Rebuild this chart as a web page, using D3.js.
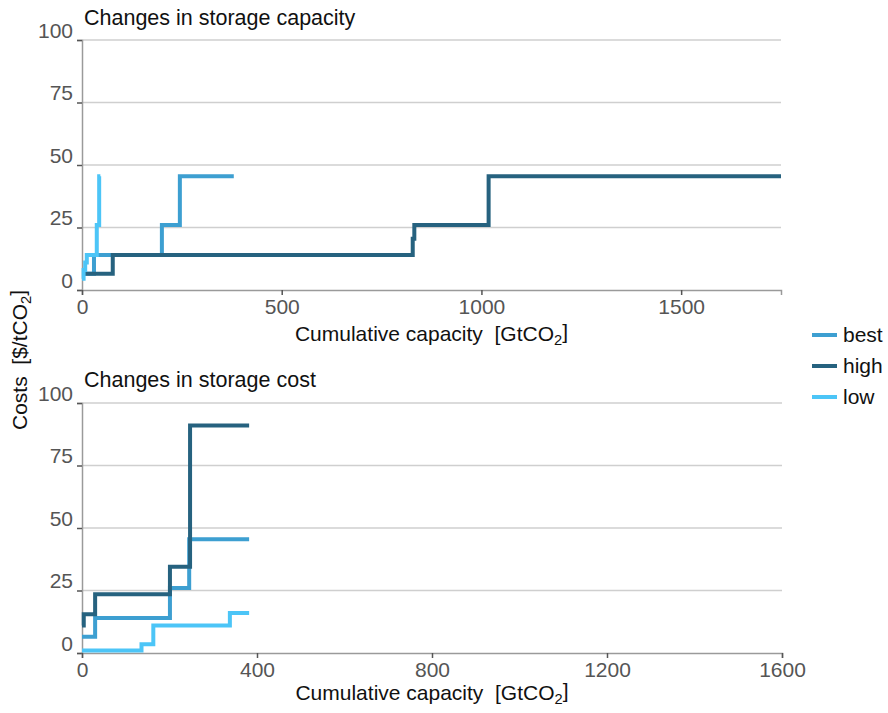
<!DOCTYPE html>
<html>
<head>
<meta charset="utf-8">
<script src="https://cdn.jsdelivr.net/npm/d3@7/dist/d3.min.js"></script>
<style>
  body { margin: 0; background: #fff; }
  svg { display: block; font-family: "Liberation Sans", Arial, sans-serif; }
  text { white-space: pre; }
</style>
</head>
<body>
<svg id="chart" width="888" height="713"></svg>
<script>
// Scenario names and colours
const scenarios = ["best", "high", "low"];
const scenarioColors = ["#3d9fd1", "#26627f", "#4cc5f7"];

// Axis ticks
const costTicks = [0, 25, 50, 75, 100];
const capTicksTop = [0, 500, 1000, 1500];
const capTicksBottom = [0, 400, 800, 1200, 1600];

// Panel 1: changes in storage capacity
// capacity break points (last entry = end of curve) and cost of each step
const capBestA = [0, 30, 200, 245, 380];
const costBestA = [6.5, 14, 26, 45.5];
const capHighA = [0, 77, 828, 832, 1018, 1750];
const costHighA = [6.5, 14, 20.5, 26, 45.5];
const capLowA = [0, 4, 8, 12, 37, 43, 46];
const costLowA = [4.5, 8, 11, 14, 26, 45.5];

// Panel 2: changes in storage cost
const capBestB = [0, 30, 201, 245, 382];
const costBestB = [6.5, 14, 26, 45.5];
const capHighB = [0, 4, 30, 201, 247, 382];
const costHighB = [11, 15.5, 23.5, 34.5, 91];
const capLowB = [0, 136, 163, 338, 382];
const costLowB = [1, 3.5, 11, 16];

const svg = d3.select("#chart");

function stepPoints(caps, costs) {
  const pts = costs.map((c, i) => [caps[i], c]);
  pts.push([caps[caps.length - 1], costs[costs.length - 1]]);
  return pts;
}

function addSub(textSel, before, sub, after) {
  textSel.append("tspan").text(before);
  textSel.append("tspan").attr("font-size", "0.7em").attr("dy", "0.3em").text(sub);
  textSel.append("tspan").attr("dy", "-0.3em").text(after);
}

function panel(opts) {
  const x = d3.scaleLinear().domain(opts.xDomain).range(opts.xRange);
  const y = d3.scaleLinear().domain([0, 100]).range(opts.yRange);
  const g = svg.append("g");

  // gridlines
  g.append("g").selectAll("line").data(costTicks.filter(t => t > 0)).join("line")
    .attr("x1", opts.xRange[0]).attr("x2", opts.xRange[1])
    .attr("y1", d => y(d)).attr("y2", d => y(d))
    .attr("stroke", "#cfcfcf").attr("stroke-width", 1.5);

  // y axis
  const ya = g.append("g").attr("transform", `translate(${opts.xRange[0]},0)`)
    .call(d3.axisLeft(y).tickValues(costTicks).tickSize(5).tickPadding(4).tickFormat(d3.format("d")));
  ya.select(".domain").attr("stroke", "#9a9a9a").attr("stroke-width", 1.5);
  ya.selectAll(".tick line").attr("stroke", "#555").attr("stroke-width", 1.5);
  ya.selectAll(".tick text").attr("fill", "#555").attr("font-size", 21)
    .attr("dy", "-0.12em");

  // x axis
  const xa = g.append("g").attr("transform", `translate(0,${opts.yRange[0]})`)
    .call(d3.axisBottom(x).tickValues(opts.xTicks).tickSize(5).tickPadding(4).tickFormat(d3.format("d")));
  xa.select(".domain").attr("stroke", "#9a9a9a").attr("stroke-width", 1.5);
  xa.selectAll(".tick line").attr("stroke", "#555").attr("stroke-width", 1.5);
  xa.selectAll(".tick text").attr("fill", "#555").attr("font-size", 21);

  // step curves
  const line = d3.line().x(d => x(d[0])).y(d => y(d[1])).curve(d3.curveStepAfter);
  opts.series.forEach((s, i) => {
    g.append("path")
      .attr("d", line(stepPoints(s[0], s[1])))
      .attr("fill", "none")
      .attr("stroke", scenarioColors[i])
      .attr("stroke-width", 4);
  });

  // panel title
  g.append("text").attr("x", opts.xRange[0] + 2).attr("y", opts.titleY)
    .attr("font-size", 21.5).attr("fill", "#111").text(opts.title);

  // x title
  const xt = g.append("text")
    .attr("x", (opts.xRange[0] + opts.xRange[1]) / 2)
    .attr("y", opts.xTitleY)
    .attr("text-anchor", "middle").attr("font-size", 21).attr("fill", "#111");
  addSub(xt, "Cumulative capacity  [GtCO", "2", "]");
}

panel({
  xDomain: [0, 1750], xRange: [82, 781], yRange: [290, 40],
  xTicks: capTicksTop, title: "Changes in storage capacity", titleY: 25, xTitleY: 341,
  series: [[capBestA, costBestA], [capHighA, costHighA], [capLowA, costLowA]]
});

panel({
  xDomain: [0, 1600], xRange: [82, 782], yRange: [653, 403],
  xTicks: capTicksBottom, title: "Changes in storage cost", titleY: 387, xTitleY: 700,
  series: [[capBestB, costBestB], [capHighB, costHighB], [capLowB, costLowB]]
});

// y axis title
const yt = svg.append("text")
  .attr("transform", "translate(27,360) rotate(-90)")
  .attr("text-anchor", "middle").attr("font-size", 21).attr("fill", "#111");
addSub(yt, "Costs  [$/tCO", "2", "]");

// legend
const leg = svg.append("g");
scenarios.forEach((name, i) => {
  const yy = 335 + i * 31;
  leg.append("line").attr("x1", 812).attr("x2", 837).attr("y1", yy).attr("y2", yy)
    .attr("stroke", scenarioColors[i]).attr("stroke-width", 4);
  leg.append("text").attr("x", 843).attr("y", yy).attr("dy", "0.35em")
    .attr("font-size", 21).attr("fill", "#111").text(name);
});
</script>
</body>
</html>
